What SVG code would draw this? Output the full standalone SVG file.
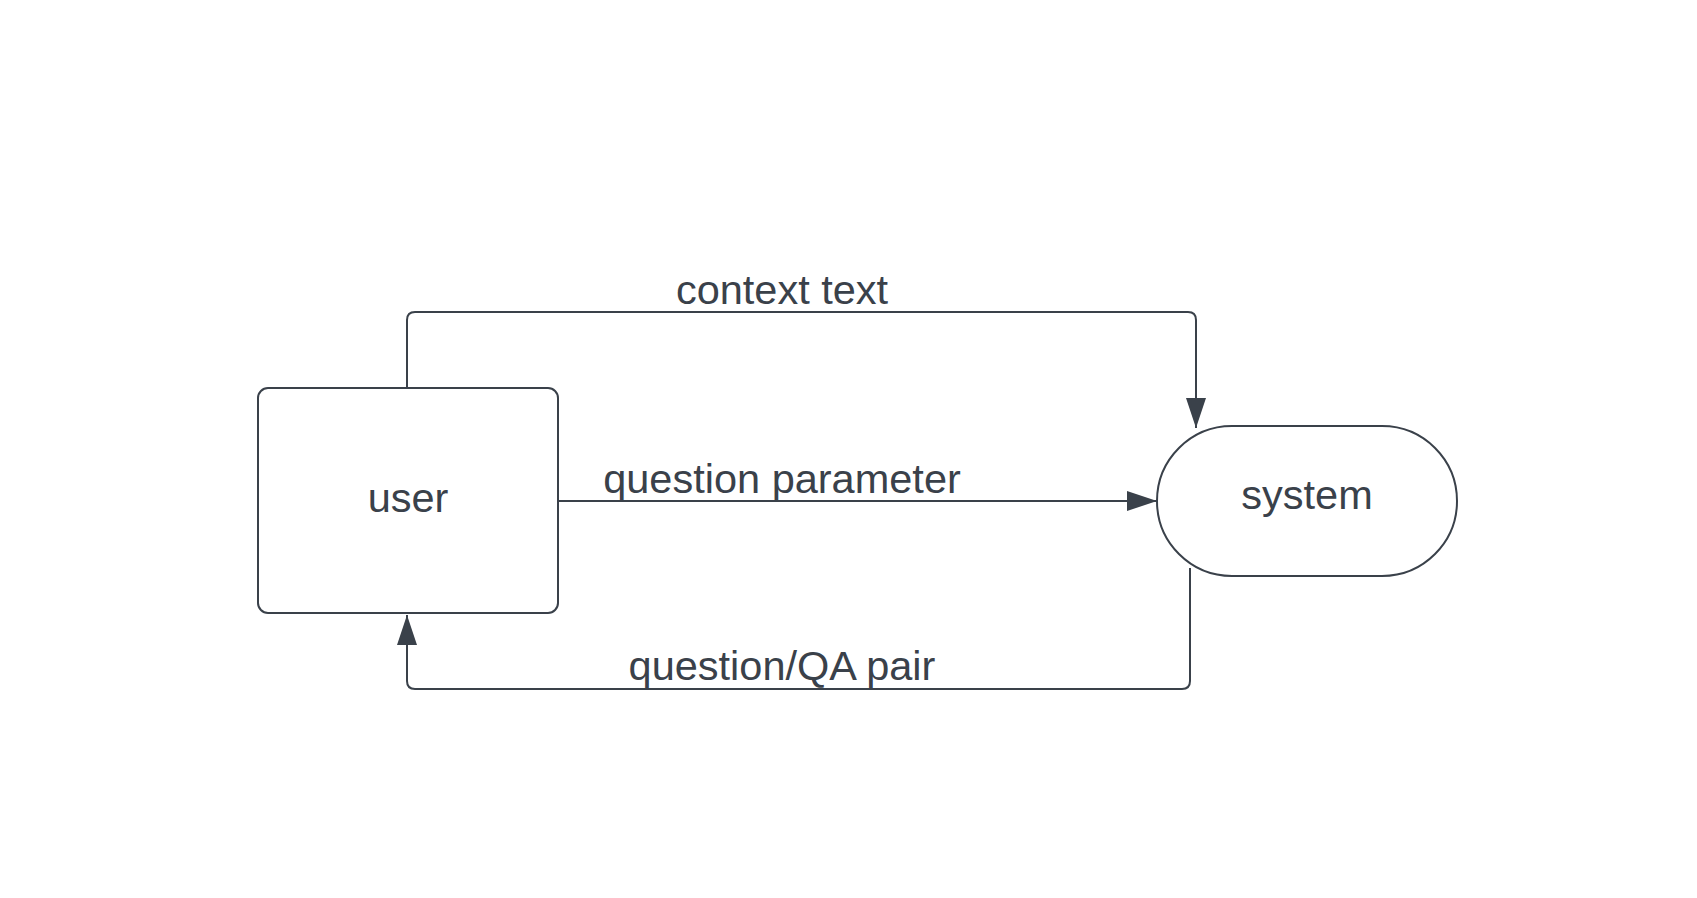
<svg xmlns="http://www.w3.org/2000/svg" width="1697" height="898" viewBox="0 0 1697 898">
<style>
.shape{fill:#ffffff;stroke:#3a414a;stroke-width:2}
.conn{fill:none;stroke:#3a414a;stroke-width:2}
.lbl{font-family:"Liberation Sans",Arial,sans-serif;font-size:41.5px;fill:#3a414a;text-anchor:middle}
</style>
<defs>
<marker id="arr" viewBox="0 0 30 20" refX="30" refY="10" markerWidth="30" markerHeight="20" markerUnits="userSpaceOnUse" orient="auto">
<path d="M0,0 L30,10 L0,20 Z" fill="#3a414a"/>
</marker>
</defs>
<rect width="1697" height="898" fill="#ffffff"/>
<g id="connectors">
<path class="conn" d="M407,388 V320 Q407,312 415,312 H1188 Q1196,312 1196,320 V428" marker-end="url(#arr)"/>
<path class="conn" d="M558,501 H1157" marker-end="url(#arr)"/>
<path class="conn" d="M1190,568 V681 Q1190,689 1182,689 H415 Q407,689 407,681 V615" marker-end="url(#arr)"/>
<text class="lbl" x="782" y="304">context text</text>
<text class="lbl" x="782" y="493">question parameter</text>
<text class="lbl" x="782" y="680">question/QA pair</text>
</g>
<g id="user">
<rect class="shape" x="258" y="388" width="300" height="225" rx="10"/>
<text class="lbl" x="408" y="512">user</text>
</g>
<g id="system">
<rect class="shape" x="1157" y="426" width="300" height="150" rx="75"/>
<text class="lbl" x="1307" y="509">system</text>
</g>
</svg>
